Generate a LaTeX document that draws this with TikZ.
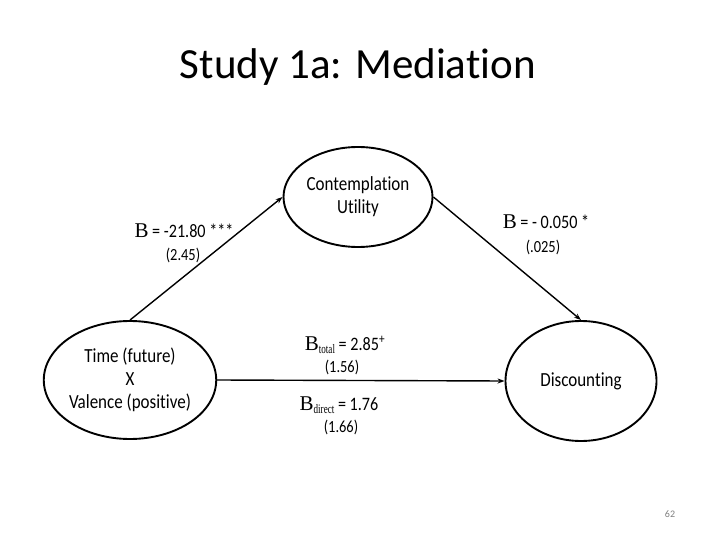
\documentclass[tikz,border=0pt]{standalone}
\usepackage{fontspec}
\setmainfont{Carlito}[Ligatures={NoCommon,NoContextual,NoRare}]
\newfontfamily\cond{Carlito}[FakeStretch=0.85,Ligatures={NoCommon,NoContextual,NoRare}]
\newfontfamily\serifB{Liberation Serif}
\newfontfamily\serifS{Liberation Serif}[FakeStretch=0.7]
\newcommand{\bigB}{{\serifB\fontsize{21}{21}\selectfont B}}
\newcommand{\mysub}[1]{\raisebox{-3.5pt}{\serifS\fontsize{13}{13}\selectfont #1}}
\usetikzlibrary{arrows.meta,shapes.geometric}
\begin{document}
\begin{tikzpicture}[x=1pt,y=-1pt,
  var/.style={draw,line width=1.9pt,ellipse,inner sep=0pt,font=\cond\fontsize{20}{23}\selectfont,align=center},
  conn/.style={line width=1.4pt,-{Stealth[length=7pt,width=5pt]}},
  lab/.style={font=\cond\fontsize{19}{21}\selectfont,inner sep=0pt},
  se/.style={font=\cond\fontsize{17}{19}\selectfont,inner sep=0pt}]
\useasboundingbox (0,0) rectangle (720,540);
\fill[white] (0,0) rectangle (720,540);
\node[font=\fontsize{43}{50}\selectfont] (title) at (358,67) {Study 1a: Media\kern0pt tion};
\node[var,minimum width=149pt,minimum height=100pt] (cu) at (358,197) {Contempla\kern0pt tion\\Utility};
\node[var,minimum width=150pt,minimum height=118pt] (tv) at (130,380) {Time (future)\\X\\Valence (positive)};
\node[var,minimum width=151pt,minimum height=120pt] (dc) at (581,381) {Discoun\kern0pt ting};
\draw[conn] (tv.north) -- (cu.west);
\draw[conn] (cu.east) -- (dc.north);
\draw[conn] (tv.east) -- (dc.west);
\node[lab] (la) at (184,231) {\bigB{} = -21.80 ***};
\node[se] (las) at (183,255) {(2.45)};
\node[lab] (lb) at (546,222) {\bigB{} = - 0.050 *};
\node[se] (lbs) at (543,247) {(.025)};
\node[lab] (lc) at (345,345) {\bigB\mysub{total} = 2.85\textsuperscript{+}};
\node[se] (lcs) at (342,367) {(1.56)};
\node[lab] (ld) at (339,405) {\bigB\mysub{direct} = 1.76};
\node[se] (lds) at (341,427) {(1.66)};
\node[font=\fontsize{10}{12}\selectfont,text=gray] (pg) at (670,514) {62};
\end{tikzpicture}
\end{document}
